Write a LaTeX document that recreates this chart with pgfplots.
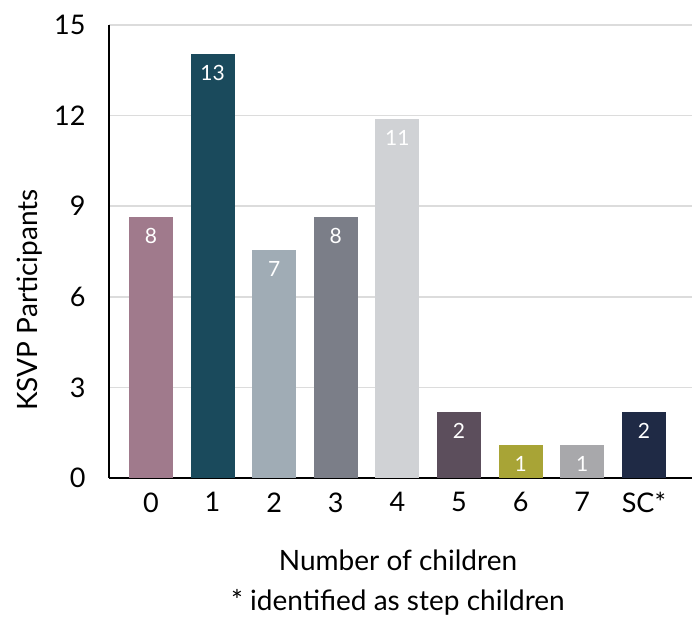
\documentclass[border=0pt]{standalone}
\usepackage{fontspec}
\setmainfont{Lato}
\usepackage{pgfplots}
\pgfplotsset{compat=1.18}
\definecolor{c0}{HTML}{A07A8C}
\definecolor{c1}{HTML}{1A4A5C}
\definecolor{c2}{HTML}{A0ACB5}
\definecolor{c3}{HTML}{7B7E88}
\definecolor{c4}{HTML}{D0D2D5}
\definecolor{c5}{HTML}{5C4E5C}
\definecolor{c6}{HTML}{A8A436}
\definecolor{c7}{HTML}{A8A8AB}
\definecolor{c8}{HTML}{1F2A45}
\definecolor{gridc}{HTML}{DCDCDC}
\begin{document}
\begin{tikzpicture}[x=1pt,y=1pt]
\useasboundingbox (0,0) rectangle (692,617);
\begin{axis}[
  at={(109pt,139pt)}, anchor=south west,
  scale only axis, width=583pt, height=453pt,
  xmin=-0.68, xmax=8.78, ymin=0, ymax=15,
  ytick={0,3,6,9,12,15},
  xtick={0,1,2,3,4,5,6,7,8},
  xticklabels={0,1,2,3,4,5,6,7,SC*},
  axis x line*=bottom, axis y line*=left,
  axis line style={line width=1.6pt, black, -},
  major tick length=0pt,
  ymajorgrids, grid style={line width=1.6pt, gridc},
  tick label style={font=\fontsize{27}{32}\selectfont, black},
  yticklabel style={xshift=-20pt},
  xticklabel style={yshift=-11pt},
  /pgf/number format/assume math mode=true,
  ylabel={KSVP Participants},
  ylabel style={at={(axis description cs:-0.1355,0.393)}, anchor=center, font=\fontsize{28}{33}\selectfont},
  xlabel={Number of children\\[7pt]* identified as step children},
  xlabel style={at={(axis description cs:0.4957,-0.2318)}, anchor=center, align=center, font=\fontsize{28}{33}\selectfont},
  ybar, bar shift=0pt, bar width=44pt,
  point meta=explicit symbolic,
  nodes near coords,
  every node near coord/.style={anchor=center, yshift=-19pt, white, font=\fontsize{21}{25}\selectfont},
]
\addplot[draw=none, fill=c0] coordinates {(0,8.64) [8]};
\addplot[draw=none, fill=c1] coordinates {(1,14.04) [13]};
\addplot[draw=none, fill=c2] coordinates {(2,7.55) [7]};
\addplot[draw=none, fill=c3] coordinates {(3,8.64) [8]};
\addplot[draw=none, fill=c4] coordinates {(4,11.88) [11]};
\addplot[draw=none, fill=c5] coordinates {(5,2.18) [2]};
\addplot[draw=none, fill=c6] coordinates {(6,1.09) [1]};
\addplot[draw=none, fill=c7] coordinates {(7,1.09) [1]};
\addplot[draw=none, fill=c8] coordinates {(8,2.18) [2]};
\end{axis}
\end{tikzpicture}
\end{document}
